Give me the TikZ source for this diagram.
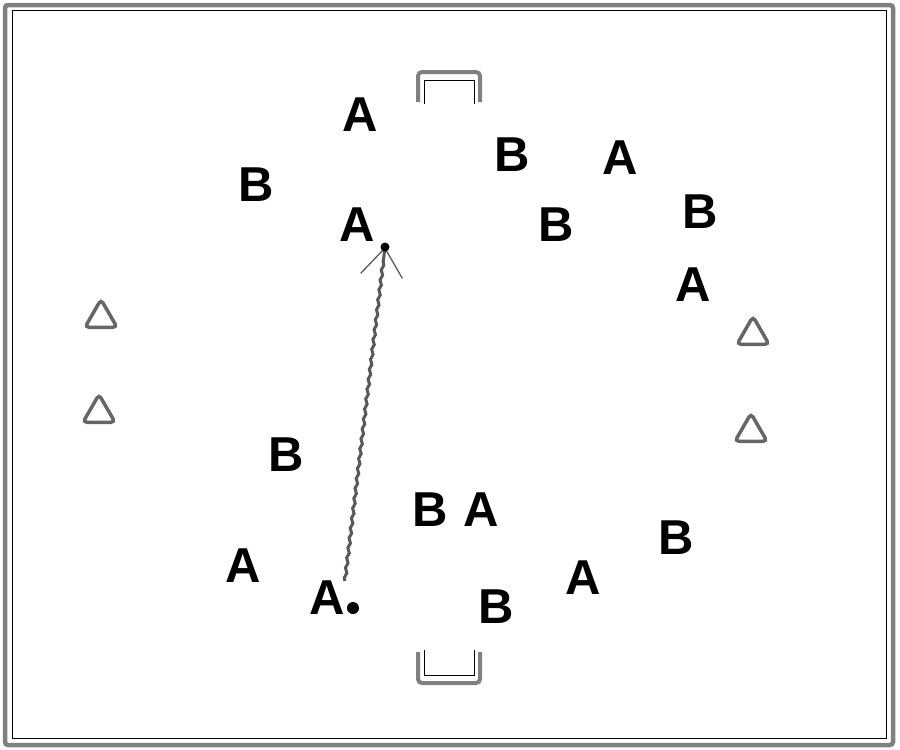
\documentclass[tikz,border=0pt]{standalone}
\usepackage{fontspec}
\setmainfont{Liberation Sans}
\usetikzlibrary{shapes.geometric, decorations.pathmorphing, arrows.meta}

\begin{document}
\begin{tikzpicture}[x=1pt,y=-1pt,
    pa/.style={font=\fontsize{49}{49}\selectfont\bfseries,inner sep=0pt},
    pb/.style={pa},
    cone/.style={regular polygon,regular polygon sides=3,minimum size=37pt,draw=gray!80!black,line width=3.5pt,rounded corners=4pt,inner sep=0pt},
    goalline/.style={draw=gray,line width=4pt,rounded corners=4pt}]
        \useasboundingbox (0,0) rectangle (900,750);
        % pitch
        \draw[draw=gray,line width=4.5pt,rounded corners=3pt] (5,5) rectangle (893,745);
        \draw[thin] (12,10) rectangle (886,738);
        % goals
        \draw[goalline] (418,102) -- (418,72) -- (480,72) -- (480,102);
        \draw[thin] (424,104) -- (424,80) -- (474,80) -- (474,104);
        \draw[goalline] (418,652) -- (418,683) -- (480,683) -- (480,652);
        \draw[thin] (424,650) -- (424,675) -- (474,675) -- (474,650);
        % team A
        \node[pa] (a1) at (360,115) {A};
        \node[pa] (a2) at (620,158) {A};
        \node[pa] (a3) at (357,225) {A};
        \node[pa] (a4) at (693,285) {A};
        \node[pa] (a5) at (481,510) {A};
        \node[pa] (a6) at (243,566) {A};
        \node[pa] (a7) at (583,578) {A};
        \node[pa] (a8) at (327,598) {A};
        % team B
        \node[pb] (b1) at (256,185) {B};
        \node[pb] (b2) at (512,155) {B};
        \node[pb] (b3) at (556,225) {B};
        \node[pb] (b4) at (700,212) {B};
        \node[pb] (b5) at (286,455) {B};
        \node[pb] (b6) at (430,510) {B};
        \node[pb] (b7) at (676,538) {B};
        \node[pb] (b8) at (496,607) {B};
        % cones
        \node[cone] (c1) at (101,318) {};
        \node[cone] (c2) at (99,413) {};
        \node[cone] (c3) at (753,335) {};
        \node[cone] (c4) at (751,432) {};
        % ball and run
        \node[circle,fill=black,inner sep=0pt,minimum size=12pt] (ball) at (353,608) {};
        \coordinate (tip) at (385,247);
        \draw[gray!70!black,line width=3pt,decorate,decoration={snake,amplitude=1pt,segment length=10pt,post length=12pt},
            -{Straight Barb[length=28pt,width=42pt,line width=1.3pt]}] (a8.north east) -- (tip);
        \fill (tip) circle (4.5pt);
    
    \end{tikzpicture}
\end{document}
